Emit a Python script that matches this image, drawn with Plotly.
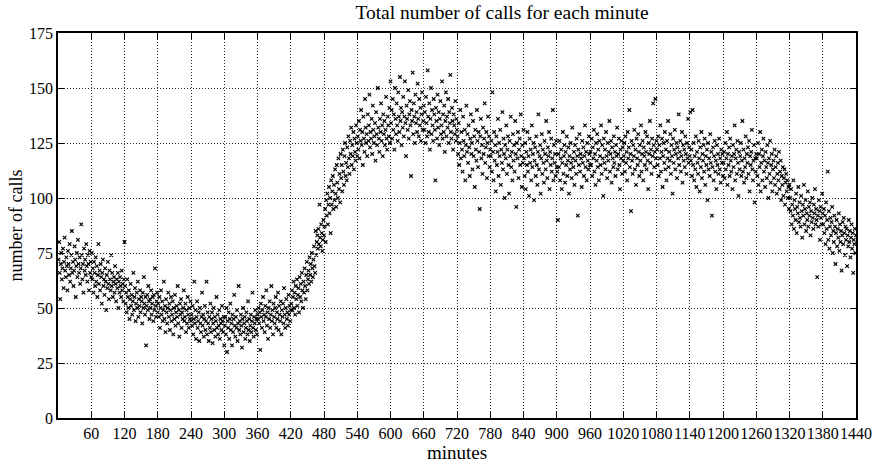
import plotly.graph_objects as go

# Calls per minute, one list per hour
h00 = [72,80,66,54,70,75,63,68,77,59,71,82,67,64,73,69,58,76,70,65,79,62,68,74,85,66,71,60,67,78,72,55,69,75,64,81,70,66,73,61,68,88,74,63,70,57,77,67,72,65,79,69,62,74,70,58,76,66,71,64]
h01 = [75,63,68,57,71,66,60,73,62,69,55,65,79,61,67,58,70,64,52,66,72,60,63,56,68,62,49,65,59,71,61,54,67,63,58,74,60,66,55,62,64,57,69,61,53,63,59,66,50,62,57,64,60,55,67,58,61,53,63,80]
h02 = [60,52,57,48,63,55,50,58,45,54,61,51,56,47,53,66,49,55,59,44,52,57,50,62,46,54,51,58,48,55,53,43,57,50,64,52,47,55,33,51,56,49,60,53,45,54,50,58,47,52,55,44,56,49,68,51,46,53,57,48]
h03 = [52,46,55,41,50,58,47,53,44,49,62,45,51,39,54,48,43,50,57,46,52,40,49,55,44,47,53,38,50,45,56,42,48,51,46,60,43,49,37,52,47,54,41,48,45,50,58,44,46,52,39,49,43,55,47,41,50,45,53,44]
h04 = [47,42,51,38,45,62,43,49,36,46,53,41,44,48,35,50,43,39,46,57,42,47,37,45,51,40,44,62,38,48,43,35,46,41,52,39,45,48,34,43,50,40,46,37,44,55,41,47,38,42,49,36,45,43,40,51,44,39,46,33]
h05 = [42,46,38,50,30,44,41,48,36,45,52,40,43,33,47,39,45,56,42,37,46,41,49,35,43,60,40,44,38,47,42,32,45,50,39,43,46,36,41,48,44,38,53,40,45,35,42,47,39,44,57,41,37,46,43,49,40,45,38,47]
h06 = [45,50,43,48,31,52,46,41,49,55,44,47,39,51,46,58,42,48,36,50,45,53,41,47,60,44,49,38,52,46,43,50,55,41,48,45,57,40,51,47,44,53,38,49,46,52,43,59,47,41,50,54,45,48,42,56,47,51,44,49]
h07 = [52,58,49,55,62,50,57,47,60,54,63,51,56,59,48,64,55,61,53,66,58,50,62,57,68,60,54,65,71,58,63,67,61,73,65,70,62,75,68,64,72,78,69,66,85,74,80,83,77,86,79,97,82,78,88,84,76,81,90,83]
h08 = [87,95,80,99,92,102,88,97,105,93,100,84,108,97,103,110,95,106,99,113,102,96,115,107,100,118,104,111,98,120,109,115,103,122,112,106,119,125,110,116,108,123,114,128,118,111,126,120,132,115,124,119,130,113,127,121,117,133,125,119]
h09 = [128,122,135,118,131,126,140,124,130,115,137,127,121,145,132,125,129,119,138,126,133,147,123,130,127,136,120,142,131,125,128,134,117,139,129,124,150,132,127,121,136,130,143,126,133,119,138,129,135,124,131,146,127,122,137,133,128,141,125,153]
h10 = [134,140,127,145,131,138,122,150,136,129,143,133,126,148,137,130,155,135,141,124,139,132,146,128,137,153,134,119,142,136,131,149,127,138,144,133,110,140,135,157,129,143,137,125,147,134,139,130,152,136,128,145,133,141,126,138,148,131,135,142]
h11 = [131,139,125,146,134,128,158,137,130,143,122,136,150,129,140,133,126,145,138,131,108,141,135,127,147,132,139,124,136,144,129,133,153,127,138,130,142,121,135,148,128,137,132,145,125,139,134,156,130,127,141,135,122,138,133,129,144,126,136,131]
h12 = [128,120,134,115,125,140,118,130,122,112,137,126,119,131,108,124,142,121,129,116,133,123,110,127,138,120,125,113,135,119,128,105,131,122,117,140,126,114,130,121,95,128,136,118,124,111,132,120,127,143,116,123,130,109,125,137,119,128,114,122]
h13 = [119,126,112,148,121,108,130,117,124,103,128,115,121,136,110,125,119,131,106,122,116,139,113,127,120,100,124,118,133,111,122,128,115,102,126,119,137,114,121,108,129,117,124,112,135,120,96,125,118,130,109,122,127,115,138,119,105,124,116,131]
h14 = [118,110,125,104,121,115,130,112,119,101,127,116,122,108,133,114,120,125,99,117,123,110,128,115,106,121,138,113,119,124,102,118,129,111,122,116,107,126,120,113,135,117,109,123,119,130,104,121,115,127,112,118,140,108,124,116,120,110,126,114]
h15 = [112,90,120,114,126,108,118,122,104,116,130,111,119,124,107,121,115,128,110,117,123,102,119,113,125,116,109,132,118,114,121,106,124,117,111,127,119,92,122,115,129,112,120,118,105,126,116,123,110,119,133,114,121,108,125,117,113,128,120,115]
h16 = [121,115,127,110,123,118,131,112,120,106,125,117,129,114,122,108,126,119,115,133,111,124,118,101,127,116,122,113,130,119,109,125,117,121,135,112,120,126,107,123,118,114,128,116,121,110,124,119,132,113,120,127,115,104,122,118,126,111,123,117]
h17 = [119,125,112,128,116,121,108,130,118,123,140,114,120,94,126,117,111,124,119,131,113,122,106,127,118,115,129,121,110,124,117,133,112,120,126,108,123,119,115,130,121,113,128,117,104,125,120,135,116,122,111,127,119,143,124,114,121,145,118,126]
h18 = [122,115,128,110,124,118,133,112,121,127,105,119,125,116,130,113,122,108,126,118,135,114,121,117,129,111,124,119,102,127,116,122,131,113,120,125,109,123,118,138,115,121,126,112,119,130,107,124,117,122,114,128,120,111,125,118,136,116,123,119]
h19 = [139,117,122,110,140,115,125,108,119,113,128,105,121,116,111,126,118,103,123,114,130,109,120,117,124,112,127,106,119,115,122,99,125,113,118,110,129,116,121,92,114,123,108,119,126,112,117,104,124,115,120,111,127,113,118,107,122,116,120,110]
h20 = [116,121,109,125,113,118,130,106,120,115,123,110,127,117,112,119,104,124,114,120,133,108,118,122,111,126,116,101,121,113,119,125,110,117,135,112,122,107,118,114,128,109,120,116,123,111,126,103,119,115,121,131,113,108,117,124,98,118,112,120]
h21 = [118,110,125,106,120,114,130,103,116,122,108,119,127,112,117,105,121,114,109,124,116,100,118,111,126,107,115,120,103,113,117,109,122,106,114,119,102,111,116,108,121,104,112,117,99,110,106,114,101,109,113,97,107,111,103,108,100,105,95,106]
h22 = [100,94,104,88,97,92,108,86,99,95,90,102,84,96,93,105,89,98,91,87,101,94,82,97,92,106,88,95,99,85,93,90,103,87,96,92,98,83,94,89,100,91,86,97,93,104,88,95,90,64,92,87,99,94,81,96,91,88,102,93]
h23 = [88,95,84,92,79,98,86,90,112,81,94,77,87,91,83,89,96,75,85,80,92,87,70,84,90,78,86,82,93,76,88,80,85,67,83,89,79,91,84,74,87,81,86,69,83,78,90,80,85,73,82,88,77,84,66,81,79,86,75,83]

hours = [h00,h01,h02,h03,h04,h05,h06,h07,h08,h09,h10,h11,
         h12,h13,h14,h15,h16,h17,h18,h19,h20,h21,h22,h23]
calls = [v for h in hours for v in h]
minutes = list(range(1, len(calls) + 1))

x_ticks = list(range(60, 1441, 60))
y_ticks = list(range(0, 176, 25))

FONT = "Liberation Serif, Times New Roman, serif"
W, H = 880, 468

fig = go.Figure(go.Scatter(
    x=minutes, y=calls, mode="markers",
    marker=dict(symbol="x-thin", size=3.5, color="black",
                line=dict(width=1.2, color="black")),
    hoverinfo="skip"))

axis_common = dict(
    showline=True, linecolor="black", linewidth=1.6, mirror="ticks",
    ticks="inside", ticklen=6, tickwidth=1, tickcolor="black",
    showgrid=True, gridcolor="#222", gridwidth=1, griddash="1px,2px",
    zeroline=False, automargin=False,
    tickfont=dict(family=FONT, size=16, color="black"),
)

fig.update_xaxes(range=[0, 1440], tickvals=x_ticks,
                 ticktext=[str(t) for t in x_ticks], tickangle=0,
                 **axis_common)
fig.update_yaxes(range=[0, 175], tickvals=y_ticks, **axis_common)

fig.add_annotation(text="minutes", xref="paper", x=0.5, xanchor="center",
                   yref="paper", y=-(452 - 418) / 385, yanchor="middle",
                   showarrow=False, font=dict(family=FONT, size=19, color="black"))
fig.add_annotation(text="number of calls", textangle=-90,
                   xref="paper", x=-(58 - 15) / 798, xanchor="center",
                   yref="paper", y=0.5, yanchor="middle",
                   showarrow=False, font=dict(family=FONT, size=18, color="black"))

fig.update_layout(
    width=W, height=H,
    margin=dict(l=58, r=24, t=33, b=50),
    paper_bgcolor="white", plot_bgcolor="white",
    showlegend=False,
    title=dict(text="Total number of calls for each minute",
               font=dict(family=FONT, size=19.5, color="black"),
               xref="container", x=502 / W, xanchor="center",
               yref="container", y=(H - 12) / H, yanchor="middle"),
)

fig.write_html("out.html", config={"displayModeBar": False},
               post_script="document.body.style.margin='0';")
